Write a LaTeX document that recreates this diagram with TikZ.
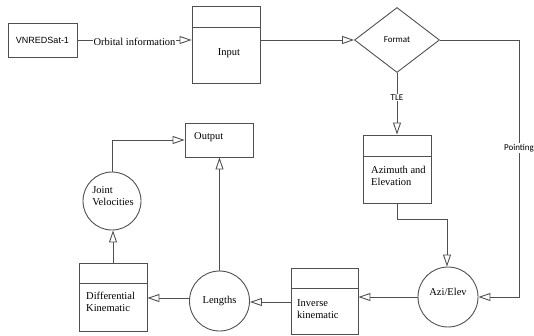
\documentclass[tikz,border=0pt]{standalone}
\usepackage{fontspec}
\setmainfont{Liberation Serif}
\newfontfamily\arialf{Liberation Sans}
\newfontfamily\calf{Carlito}
\usetikzlibrary{shapes.geometric,arrows.meta,calc}
\definecolor{lc}{HTML}{505050}
\tikzset{
  ln/.style={draw=lc, line width=0.9pt},
  arr/.style={ln, -{Triangle[open,length=12pt,width=8pt,line width=0.9pt]}},
  box/.style={ln, rectangle, inner sep=0pt},
  circ/.style={ln, circle, inner sep=0pt, font=\fontsize{10.5}{12.5}\selectfont},
  stxt/.style={font=\fontsize{10.5}{12.5}\selectfont, inner sep=0pt, align=left},
  sans/.style={font=\calf\fontsize{9}{10}\selectfont, inner sep=1pt, fill=white},
}
\begin{document}
\begin{tikzpicture}[x=1pt,y=-1pt]
\useasboundingbox (0,0) rectangle (534,335);
% boxes
\node[box, minimum width=69pt, minimum height=34pt, font=\arialf\fontsize{9}{11}\selectfont] (vn) at (42.5,40) {VNREDSat-1};
\node[box, minimum width=68pt, minimum height=77pt] (input) at (226,44.5) {};
\draw[ln] ($(input.north west)+(0,22)$) -- ($(input.north east)+(0,22)$);
\node[stxt] (inputt) at (229,53) {Input};
\node[ln, diamond, inner sep=0pt, minimum width=85pt, minimum height=65pt, font=\calf\fontsize{9}{10}\selectfont] (format) at (397,40) {Format};
\node[box, minimum width=68pt, minimum height=68pt] (azim) at (397,169) {};
\draw[ln] ($(azim.north west)+(0,22)$) -- ($(azim.north east)+(0,22)$);
\node[stxt, anchor=west] (azimt) at (371,176) {Azimuth and\\Elevation};
\node[circ, minimum size=60pt] (azi) at (448,297) {};
\node[stxt] (azit) at (448,292) {Azi/Elev};
\node[box, minimum width=67pt, minimum height=66pt] (inv) at (324.5,301) {};
\draw[ln] ($(inv.north west)+(0,21)$) -- ($(inv.north east)+(0,21)$);
\node[stxt, anchor=west] (invt) at (297,309) {Inverse\\kinematic};
\node[circ, minimum size=60pt] (len) at (219.5,301) {Lengths};
\node[box, minimum width=68pt, minimum height=68pt] (diff) at (113,297) {};
\draw[ln] ($(diff.north west)+(0,21)$) -- ($(diff.north east)+(0,21)$);
\node[stxt, anchor=west] (difft) at (86,302) {Differential\\Kinematic};
\node[circ, minimum size=58pt] (joint) at (112,201) {};
\node[stxt] (jointt) at (113,196) {Joint\\Velocities};
\node[box, minimum width=68pt, minimum height=34pt] (out) at (219,140) {};
\node[stxt, anchor=west] (outt) at (194,137) {Output};
% connectors
\draw[arr] (vn.east) -- node[stxt, fill=white, inner sep=1pt, yshift=-2pt] (orb) {Orbital information} (input.west |- vn.east);
\draw[arr] (input.east |- format.west) -- (format.west);
\draw[arr] (format.east) -- (519,40) -- node[sans, pos=0.42] (pt) {Pointing} (519,297) -- (azi.east);
\draw[arr] (format.south) -- node[sans, pos=0.4] (tle) {TLE} (azim.north);
\draw[arr] (azim.south) -- (397,219) -- (447,219) -- (447,0 |- azi.north);
\draw[arr] (azi.west) -- (inv.east |- azi.west);
\draw[arr] (inv.west |- 0,302) -- (len.east |- 0,302);
\draw[arr] (len.west |- 0,298) -- (diff.east |- 0,298);
\draw[arr] (len.north) -- (out.south -| len.north);
\draw[arr] (diff.north) -- (joint.south -| diff.north);
\draw[arr] (joint.north) -- (112,140) -- (out.west);
\end{tikzpicture}
\end{document}
